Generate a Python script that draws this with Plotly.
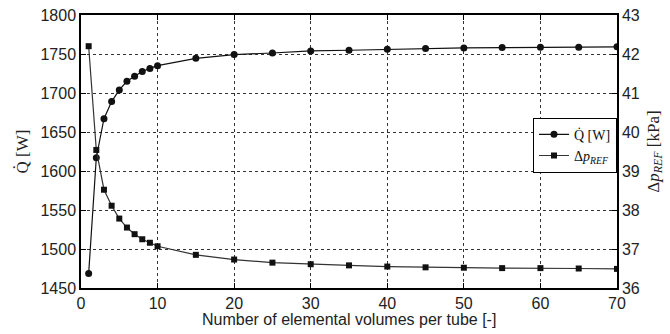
import plotly.graph_objects as go

n_volumes = [1, 2, 3, 4, 5, 6, 7, 8, 9, 10, 15, 20, 25, 30, 35, 40, 45, 50, 55, 60, 65, 70]
q_watts = [1468.5, 1617, 1667, 1689, 1704, 1715, 1721.5, 1727.5, 1731.5, 1735, 1744.5, 1749.3,
           1751.3, 1753.9, 1754.8, 1756.1, 1757, 1757.8, 1758.2, 1758.5, 1758.8, 1759.2]
dp_kpa = [42.2, 39.54, 38.52, 38.11, 37.78, 37.55, 37.38, 37.25, 37.16, 37.07, 36.85, 36.73,
          36.65, 36.61, 36.58, 36.55, 36.53, 36.52, 36.51, 36.51, 36.50, 36.49]

x_ticks = [0, 10, 20, 30, 40, 50, 60, 70]
q_ticks = [1450, 1500, 1550, 1600, 1650, 1700, 1750, 1800]
dp_ticks = [36, 37, 38, 39, 40, 41, 42, 43]

fig = go.Figure()
fig.add_trace(go.Scatter(
    x=n_volumes, y=q_watts, mode="lines+markers", name="Q̇ [W]",
    line=dict(color="#111111", width=1.2),
    marker=dict(symbol="circle", size=7, color="#111111"),
))
fig.add_trace(go.Scatter(
    x=n_volumes, y=dp_kpa, mode="lines+markers", name="Δ<i>p<sub>REF</sub></i>",
    yaxis="y2",
    line=dict(color="#333333", width=1.2),
    marker=dict(symbol="square", size=6, color="#111111"),
))

sans = "Liberation Sans"
serif = "Liberation Serif"
tick_font = dict(family=sans, size=16, color="#222")

fig.update_layout(
    width=670, height=334,
    margin=dict(l=81, r=53, t=15, b=46, autoexpand=False),
    paper_bgcolor="white", plot_bgcolor="white",
    showlegend=True,
    legend=dict(
        x=1, xanchor="right", y=0.523, yanchor="middle",
        bordercolor="black", borderwidth=1, bgcolor="white",
        font=dict(family=serif, size=14, color="#111"),
        tracegroupgap=0, itemwidth=30,
    ),
    xaxis=dict(
        range=[0, 70], tickvals=x_ticks, ticks="inside", ticklen=5, tickcolor="black",
        showline=True, linecolor="black", linewidth=1.5, mirror="ticks",
        showgrid=True, gridcolor="#333", griddash="dot", gridwidth=1,
        tickfont=tick_font, zeroline=False, automargin=False,
    ),
    yaxis=dict(
        range=[1450, 1800], tickvals=q_ticks, ticks="inside", ticklen=5, tickcolor="black",
        showline=True, linecolor="black", linewidth=1.5, mirror=True,
        showgrid=True, gridcolor="#333", griddash="dot", gridwidth=1,
        tickfont=tick_font, zeroline=False, automargin=False,
        title=dict(text="Q̇ [W]", font=dict(family=serif, size=17, color="#222"), standoff=8),
    ),
    yaxis2=dict(
        range=[36, 43], tickvals=dp_ticks, ticks="inside", ticklen=5, tickcolor="black",
        overlaying="y", side="right", showgrid=False, zeroline=False,
        showline=True, linecolor="black", linewidth=1.5, automargin=False,
        tickfont=tick_font,
        title=dict(text="Δ<i>p<sub>REF</sub></i> [kPa]", font=dict(family=serif, size=17, color="#222"),
                   standoff=8),
    ),
    annotations=[dict(
        text="Number of elemental volumes per tube [-]",
        xref="paper", yref="paper", x=0.5, y=-0.114, xanchor="center", yanchor="middle",
        showarrow=False, font=dict(family=sans, size=16, color="#222"),
    )],
)

fig.write_html("out.html")
